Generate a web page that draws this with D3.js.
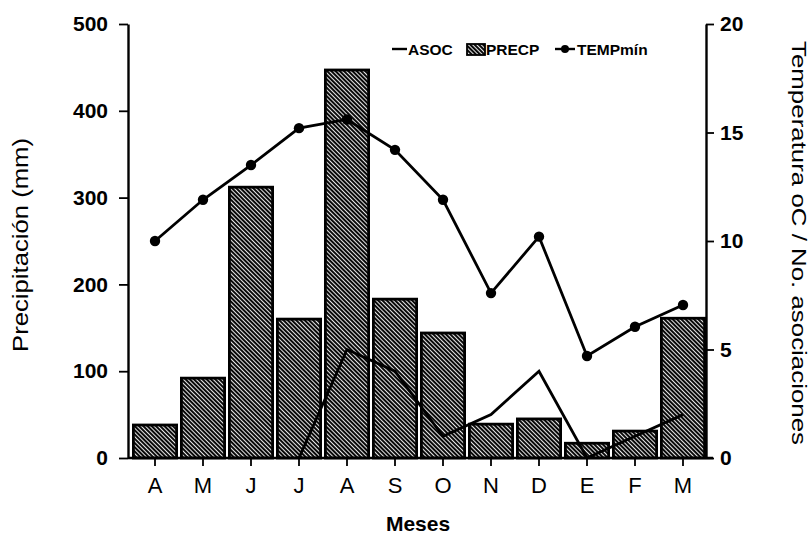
<!DOCTYPE html>
<html><head><meta charset="utf-8">
<script src="https://cdn.jsdelivr.net/npm/d3@7"></script>
<style>body{margin:0;background:#fff}svg{display:block;font-family:"Liberation Sans",Arial,sans-serif}</style>
</head><body><svg id="c" width="811" height="538"></svg>
<script>
const months = ["A","M","J","J","A","S","O","N","D","E","F","M"];
const precp = [38, 92, 312, 160, 447, 183, 144, 39, 45, 17, 31, 161];
const tempMin = [10.0, 11.9, 13.5, 15.2, 15.6, 14.2, 11.9, 7.6, 10.2, 4.7, 6.05, 7.05];
const asoc = [null, null, null, 0, 5, 4, 1, 2, 4, 0, 1, 2];
const leftTicks = [0,100,200,300,400,500];
const rightTicks = [0,5,10,15,20];

const svg = d3.select("#c");
const x0 = 128, x1 = 706, yTop = 24, yBot = 458;
const x = d3.scaleBand().domain(d3.range(months.length)).range([131, 707]).paddingInner(0.1).paddingOuter(0.05);
const yL = d3.scaleLinear().domain([0,500]).range([yBot, yTop]);
const yR = d3.scaleLinear().domain([0,20]).range([yBot, yTop]);

const defs = svg.append("defs");
const pat = defs.append("pattern").attr("id","hatch").attr("patternUnits","userSpaceOnUse")
  .attr("width",3).attr("height",3).attr("patternTransform","rotate(45)");
pat.append("rect").attr("width",3).attr("height",3).attr("fill","#0a0a0a");
pat.append("rect").attr("x",0).attr("y",0).attr("width",3).attr("height",0.9).attr("fill","#fff");

// bars
svg.append("g").selectAll("rect").data(precp).join("rect")
  .attr("x",(d,i)=>x(i)).attr("width",x.bandwidth())
  .attr("y",d=>yL(d)).attr("height",d=>yBot-yL(d))
  .attr("fill","url(#hatch)").attr("stroke","#000").attr("stroke-width",2.8);

// temp line
const cx = i => x(i)+x.bandwidth()/2;
svg.append("path").datum(tempMin)
  .attr("d", d3.line().x((d,i)=>cx(i)).y(d=>yR(d)))
  .attr("fill","none").attr("stroke","#000").attr("stroke-width",2.8);
svg.append("g").selectAll("circle").data(tempMin).join("circle")
  .attr("cx",(d,i)=>cx(i)).attr("cy",d=>yR(d)).attr("r",5.2).attr("fill","#000");

// asoc line
svg.append("path").datum(asoc)
  .attr("d", d3.line().defined(d=>d!==null).x((d,i)=>cx(i)).y(d=>yR(d)))
  .attr("fill","none").attr("stroke","#000").attr("stroke-width",2.8);

// axes
const gL = svg.append("g").attr("transform",`translate(${x0},0)`)
  .call(d3.axisLeft(yL).tickValues(leftTicks).tickSize(9).tickPadding(11).tickSizeOuter(0));
const gR = svg.append("g").attr("transform",`translate(${x1},0)`)
  .call(d3.axisRight(yR).tickValues(rightTicks).tickSize(8).tickPadding(6).tickSizeOuter(0));
const gB = svg.append("g").attr("transform",`translate(0,${yBot})`)
  .call(d3.axisBottom(x).tickFormat(i=>months[i]).tickSize(8).tickPadding(11).tickSizeOuter(0));
[gL,gR,gB].forEach(g=>{
  g.selectAll("path.domain").attr("stroke","#000").attr("stroke-width",2.4);
  g.selectAll(".tick line").attr("stroke","#000").attr("stroke-width",1.8);
  g.selectAll("text").attr("fill","#000").attr("font-family","Liberation Sans, Arial, sans-serif");
});
gB.select("path.domain").attr("d",`M${x0},0H${x1+7}`);
gL.selectAll("text").attr("font-size",21).attr("font-weight","bold");
gR.selectAll("text").attr("font-size",21).attr("font-weight","bold");
gB.selectAll("text").attr("font-size",22);

// titles
svg.append("text").attr("transform","translate(28,245) rotate(-90)").attr("text-anchor","middle")
  .attr("font-size",22).attr("textLength",214).attr("lengthAdjust","spacingAndGlyphs").text("Precipitación (mm)");
svg.append("text").attr("transform","translate(792,243) rotate(90)").attr("text-anchor","middle")
  .attr("font-size",21).attr("textLength",404).attr("lengthAdjust","spacingAndGlyphs").text("Temperatura oC / No. asociaciones");
svg.append("text").attr("x",418).attr("y",531).attr("text-anchor","middle")
  .attr("font-size",21).attr("font-weight","bold").text("Meses");

// legend
const lg = svg.append("g").attr("font-size",15.5).attr("font-weight","bold");
lg.append("line").attr("x1",392).attr("x2",407).attr("y1",49).attr("y2",49).attr("stroke","#000").attr("stroke-width",2.4);
lg.append("text").attr("x",408).attr("y",55).text("ASOC");
lg.append("rect").attr("x",467).attr("y",44).attr("width",18).attr("height",11).attr("fill","url(#hatch)").attr("stroke","#000").attr("stroke-width",1.8);
lg.append("text").attr("x",486).attr("y",55).text("PRECP");
lg.append("line").attr("x1",555).attr("x2",575).attr("y1",49).attr("y2",49).attr("stroke","#000").attr("stroke-width",2.4);
lg.append("circle").attr("cx",565).attr("cy",49).attr("r",4).attr("fill","#000");
lg.append("text").attr("x",577).attr("y",55).text("TEMPmín");
</script></body></html>
